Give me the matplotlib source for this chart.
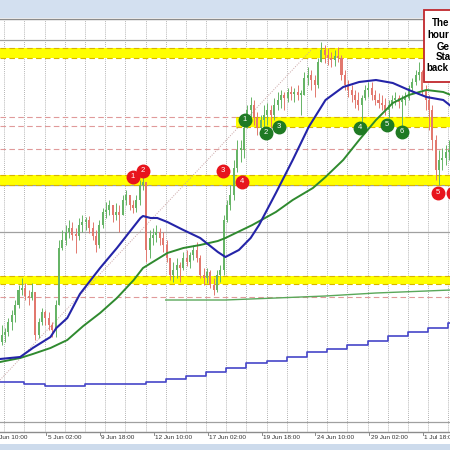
import numpy as np
import matplotlib.pyplot as plt
from matplotlib.patches import Rectangle

# 4-hour candles (bar index = 4*i + 2)
high = [1.1497, 1.1494, 1.1504, 1.1512, 1.1522, 1.1537, 1.1544, 1.1539, 1.1532, 1.1539,
        1.1530, 1.1504, 1.1514, 1.1512, 1.1510, 1.1500, 1.1522, 1.1582, 1.1592, 1.1597,
        1.1602, 1.1600, 1.1594, 1.1604, 1.1607, 1.1605, 1.1606, 1.1600, 1.1592, 1.1602,
        1.1614, 1.1620, 1.1622, 1.1617, 1.1619, 1.1617, 1.1627, 1.1632, 1.1627, 1.1622,
        1.1627, 1.1642, 1.1647, 1.1640, 1.1592, 1.1594, 1.1597, 1.1594, 1.1590, 1.1582,
        1.1564, 1.1560, 1.1564, 1.1560, 1.1570, 1.1572, 1.1570, 1.1577, 1.1580, 1.1567,
        1.1554, 1.1554, 1.1552, 1.1544, 1.1552, 1.1557, 1.1607, 1.1622, 1.1637, 1.1662,
        1.1682, 1.1682, 1.1700, 1.1717, 1.1725, 1.1722, 1.1710, 1.1707, 1.1717, 1.1719,
        1.1717, 1.1724, 1.1730, 1.1732, 1.1730, 1.1734, 1.1736, 1.1734, 1.1737, 1.1732,
        1.1750, 1.1755, 1.1752, 1.1747, 1.1764, 1.1780, 1.1777, 1.1774, 1.1770, 1.1772,
        1.1775, 1.1767, 1.1752, 1.1742, 1.1737, 1.1732, 1.1730, 1.1727, 1.1737, 1.1740,
        1.1740, 1.1732, 1.1729, 1.1727, 1.1724, 1.1722, 1.1727, 1.1730, 1.1727, 1.1727,
        1.1730, 1.1737, 1.1744, 1.1752, 1.1760, 1.1752, 1.1737, 1.1727, 1.1717, 1.1687,
        1.1672, 1.1674, 1.1677, 1.1682]
low = [1.1477, 1.1480, 1.1486, 1.1492, 1.1500, 1.1514, 1.1527, 1.1522, 1.1517, 1.1522,
       1.1482, 1.1484, 1.1497, 1.1497, 1.1492, 1.1485, 1.1485, 1.1517, 1.1572, 1.1577,
       1.1584, 1.1582, 1.1569, 1.1582, 1.1590, 1.1592, 1.1589, 1.1582, 1.1570, 1.1574,
       1.1594, 1.1604, 1.1607, 1.1600, 1.1602, 1.1590, 1.1607, 1.1617, 1.1612, 1.1609,
       1.1610, 1.1617, 1.1632, 1.1560, 1.1564, 1.1577, 1.1580, 1.1577, 1.1570, 1.1560,
       1.1542, 1.1540, 1.1544, 1.1540, 1.1552, 1.1556, 1.1554, 1.1562, 1.1560, 1.1544,
       1.1537, 1.1539, 1.1534, 1.1527, 1.1530, 1.1540, 1.1547, 1.1600, 1.1612, 1.1622,
       1.1650, 1.1660, 1.1664, 1.1694, 1.1702, 1.1697, 1.1687, 1.1685, 1.1695, 1.1697,
       1.1694, 1.1702, 1.1712, 1.1714, 1.1712, 1.1720, 1.1722, 1.1720, 1.1722, 1.1707,
       1.1727, 1.1737, 1.1732, 1.1725, 1.1734, 1.1760, 1.1759, 1.1757, 1.1755, 1.1756,
       1.1760, 1.1742, 1.1732, 1.1725, 1.1720, 1.1714, 1.1712, 1.1700, 1.1722, 1.1725,
       1.1722, 1.1717, 1.1714, 1.1712, 1.1707, 1.1704, 1.1714, 1.1717, 1.1714, 1.1694,
       1.1717, 1.1722, 1.1730, 1.1737, 1.1742, 1.1727, 1.1712, 1.1692, 1.1672, 1.1642,
       1.1637, 1.1652, 1.1657, 1.1662]
close = [1.1487, 1.1490, 1.1500, 1.1507, 1.1517, 1.1532, 1.1534, 1.1526, 1.1524, 1.1530,
         1.1487, 1.1500, 1.1510, 1.1504, 1.1497, 1.1492, 1.1517, 1.1574, 1.1582, 1.1590,
         1.1594, 1.1587, 1.1586, 1.1597, 1.1600, 1.1602, 1.1594, 1.1586, 1.1577, 1.1597,
         1.1610, 1.1612, 1.1617, 1.1607, 1.1610, 1.1607, 1.1622, 1.1627, 1.1617, 1.1614,
         1.1622, 1.1637, 1.1640, 1.1572, 1.1584, 1.1587, 1.1590, 1.1584, 1.1577, 1.1564,
         1.1547, 1.1552, 1.1557, 1.1554, 1.1564, 1.1560, 1.1567, 1.1572, 1.1564, 1.1547,
         1.1544, 1.1550, 1.1537, 1.1532, 1.1547, 1.1552, 1.1602, 1.1617, 1.1627, 1.1654,
         1.1672, 1.1672, 1.1694, 1.1712, 1.1717, 1.1704, 1.1694, 1.1702, 1.1707, 1.1712,
         1.1707, 1.1717, 1.1722, 1.1727, 1.1724, 1.1730, 1.1728, 1.1730, 1.1727, 1.1727,
         1.1744, 1.1747, 1.1742, 1.1737, 1.1760, 1.1772, 1.1767, 1.1764, 1.1762, 1.1766,
         1.1764, 1.1747, 1.1737, 1.1732, 1.1727, 1.1722, 1.1717, 1.1724, 1.1732, 1.1734,
         1.1727, 1.1722, 1.1719, 1.1717, 1.1712, 1.1717, 1.1722, 1.1724, 1.1720, 1.1722,
         1.1724, 1.1734, 1.1740, 1.1747, 1.1750, 1.1732, 1.1722, 1.1712, 1.1682, 1.1652,
         1.1662, 1.1664, 1.1670, 1.1672]
first_open = 1.1480

# 100 hour MA (blue) and 200 hour MA (green)
ma100_x = [0, 24, 39, 60, 67, 80, 95, 119, 139, 167, 170, 179, 187, 199, 218, 238, 259,
           268, 284, 298, 308, 328, 348, 367, 387, 408, 427, 447, 467, 486, 507, 527, 536]
ma100_y = [1.1463, 1.1465, 1.1474, 1.1485, 1.1494, 1.1504, 1.1528, 1.1554, 1.1574, 1.1604,
           1.1606, 1.1604, 1.1604, 1.1600, 1.1592, 1.1584, 1.1570, 1.1565, 1.1572, 1.1584,
           1.1597, 1.1629, 1.1662, 1.1695, 1.1722, 1.1735, 1.1740, 1.1742, 1.1739, 1.1732,
           1.1725, 1.1722, 1.1716]
ma200_x = [0, 24, 39, 60, 80, 99, 119, 139, 159, 170, 199, 218, 238, 259, 268, 300, 328,
           348, 372, 387, 408, 427, 447, 467, 486, 507, 527, 536]
ma200_y = [1.1460, 1.1464, 1.1468, 1.1474, 1.1482, 1.1496, 1.1509, 1.1524, 1.1542, 1.1554,
           1.1569, 1.1574, 1.1577, 1.1581, 1.1584, 1.1597, 1.1610, 1.1622, 1.1634, 1.1645,
           1.1662, 1.1682, 1.1702, 1.1719, 1.1727, 1.1732, 1.1730, 1.1727]
long_ma_x = [197, 268, 328, 387, 447, 507, 536]
long_ma_y = [1.1522, 1.1522, 1.1524, 1.1526, 1.1529, 1.1531, 1.1532]

# daily step line
day_start = [0, 29, 53, 77, 101, 125, 149, 173, 197, 221, 245, 269, 293, 317, 341, 365,
             389, 413, 437, 461, 485, 509, 533]
day_level = [1.1440, 1.1438, 1.1436, 1.1436, 1.1438, 1.1438, 1.1438, 1.1440, 1.1443, 1.1446,
             1.1450, 1.1454, 1.1459, 1.1461, 1.1465, 1.1470, 1.1473, 1.1477, 1.1481, 1.1486,
             1.1490, 1.1494, 1.1499]

grid_prices = [1.1782, 1.1637, 1.1590, 1.1400]
zone_low = [1.1764, 1.1695, 1.1637, 1.1538]
zone_high = [1.1774, 1.1705, 1.1647, 1.1546]
zone_start = [0, 280, 0, 0]
ref_lines = [1.1705, 1.1696, 1.1673, 1.1525]

trend_x = [0, 370]
trend_y = [1.1442, 1.1772]

red_x = [158, 170, 265, 288, 521, 539]
red_y = [1.1645, 1.1651, 1.1651, 1.1640, 1.1629, 1.1629]
red_lbl = ['1', '2', '3', '4', '5', '6']
green_x = [291, 316, 332, 428, 460, 478]
green_y = [1.1702, 1.1689, 1.1695, 1.1694, 1.1697, 1.1690]
green_lbl = ['1', '2', '3', '4', '5', '6']

tick_bars = [-9, 55, 119, 183, 247, 311, 375, 439, 503]
tick_labels = ['2 Jun 10:00', '5 Jun 02:00', '9 Jun 18:00', '12 Jun 10:00', '17 Jun 02:00',
               '19 Jun 18:00', '24 Jun 10:00', '29 Jun 02:00', '1 Jul 18:00']

box_lines = ['The', 'hour', 'Ge', 'Sta', 'back']

W = 450.0
fig = plt.figure(figsize=(4.5, 4.5), dpi=100)
fig.patch.set_facecolor('white')
fig.add_artist(Rectangle((0, 1 - 18 / W), 1, 18 / W, transform=fig.transFigure,
                         facecolor='#d3e0f0', edgecolor='none', zorder=0))
fig.add_artist(Rectangle((0, 0), 1, 6 / W, transform=fig.transFigure,
                         facecolor='#cddbec', edgecolor='none', zorder=0))

ax = fig.add_axes([0, (W - 432) / W, 1, (432 - 19) / W])
ax.set_xlim(0, 535)
ax.set_ylim(1.1390, 1.1803)
ax.set_facecolor('white')
for side in ['left', 'right']:
    ax.spines[side].set_visible(False)
for side in ['top', 'bottom']:
    ax.spines[side].set_color('#8c8c8c')
    ax.spines[side].set_linewidth(1.0)
ax.set_xticks([])
ax.set_yticks([])

# grid
for b in range(5, 536, 24):
    ax.axvline(b, color='#9a9a9a', lw=0.6, ls=(0, (1, 1.5)), zorder=1)
for p in grid_prices:
    ax.axhline(p, color='#a0a0a0', lw=0.9, zorder=1)

# support / resistance zones
for p in ref_lines:
    ax.axhline(p, color='#e09a9a', lw=0.8, ls=(0, (5, 3)), zorder=2)
for lo, hi, st in zip(zone_low, zone_high, zone_start):
    ax.fill_between([st, 540], lo, hi, color='#ffff00', lw=0, zorder=2)
    ax.hlines([lo, hi], st, 540, colors='#d8b400', lw=0.8, linestyles=(0, (5, 3)), zorder=3)

ax.plot(trend_x, trend_y, color='#c9a3a3', lw=0.7, ls=(0, (1, 1.5)), zorder=3)

# candles
opens = [first_open] + close[:-1]
xs = np.arange(len(close)) * 4 + 2
cols = ['#66b466' if c >= o else '#e2786e' for o, c in zip(opens, close)]
ax.vlines(xs, low, high, colors=cols, lw=0.7, zorder=4)
body = [max(abs(c - o), 0.00015) for o, c in zip(opens, close)]
ax.bar(xs, body, bottom=np.minimum(opens, close), width=2.4, color=cols, lw=0, zorder=4)

# moving averages
ax.step(day_start + [536], day_level + [day_level[-1]], where='post',
        color='#4646c8', lw=1.2, zorder=5)
ax.plot(long_ma_x, long_ma_y, color='#5aa85a', lw=1.0, zorder=5)
ax.plot(ma200_x, ma200_y, color='#2f8a2f', lw=1.4, zorder=6)
ax.plot(ma100_x, ma100_y, color='#2424a8', lw=1.5, zorder=6)

# numbered markers
for x, y, s in zip(red_x, red_y, red_lbl):
    ax.plot(x, y, 'o', ms=9, color='#e8141c', mec='#e8141c', zorder=10, clip_on=False)
    ax.text(x, y, s, color='white', fontsize=5.5, ha='center', va='center', zorder=11,
            family='Liberation Sans', clip_on=False)
for x, y, s in zip(green_x, green_y, green_lbl):
    ax.plot(x, y, 'o', ms=9, color='#1f7a23', mec='#1f7a23', zorder=10)
    ax.text(x, y, s, color='white', fontsize=5.5, ha='center', va='center', zorder=11,
            family='Liberation Sans')

# time axis labels
xt = ax.get_xaxis_transform()
for b, s in zip(tick_bars, tick_labels):
    ax.plot([b, b], [0, -0.008], color='#8c8c8c', lw=0.7, transform=xt, clip_on=False)
    ax.text(b + 1.5, -0.0145, s, transform=xt, fontsize=4.6, color='#333333',
            family='Liberation Sans', ha='left', va='center', clip_on=False)

# headline box (cut by the right edge)
fig.add_artist(Rectangle((424 / W, 1 - 82 / W), 0.2, 72 / W, transform=fig.transFigure,
                         facecolor='white', edgecolor='#c0282d', lw=1.3, zorder=20))
box_x = [432, 427, 437, 436, 426]
box_y = [23, 35, 47, 57, 68]
for s, bx, by in zip(box_lines, box_x, box_y):
    fig.text(bx / W, 1 - by / W, s, fontsize=7, fontweight='bold', family='Liberation Sans',
             ha='left', va='center', zorder=21)

fig.savefig('out.png', dpi=100)
